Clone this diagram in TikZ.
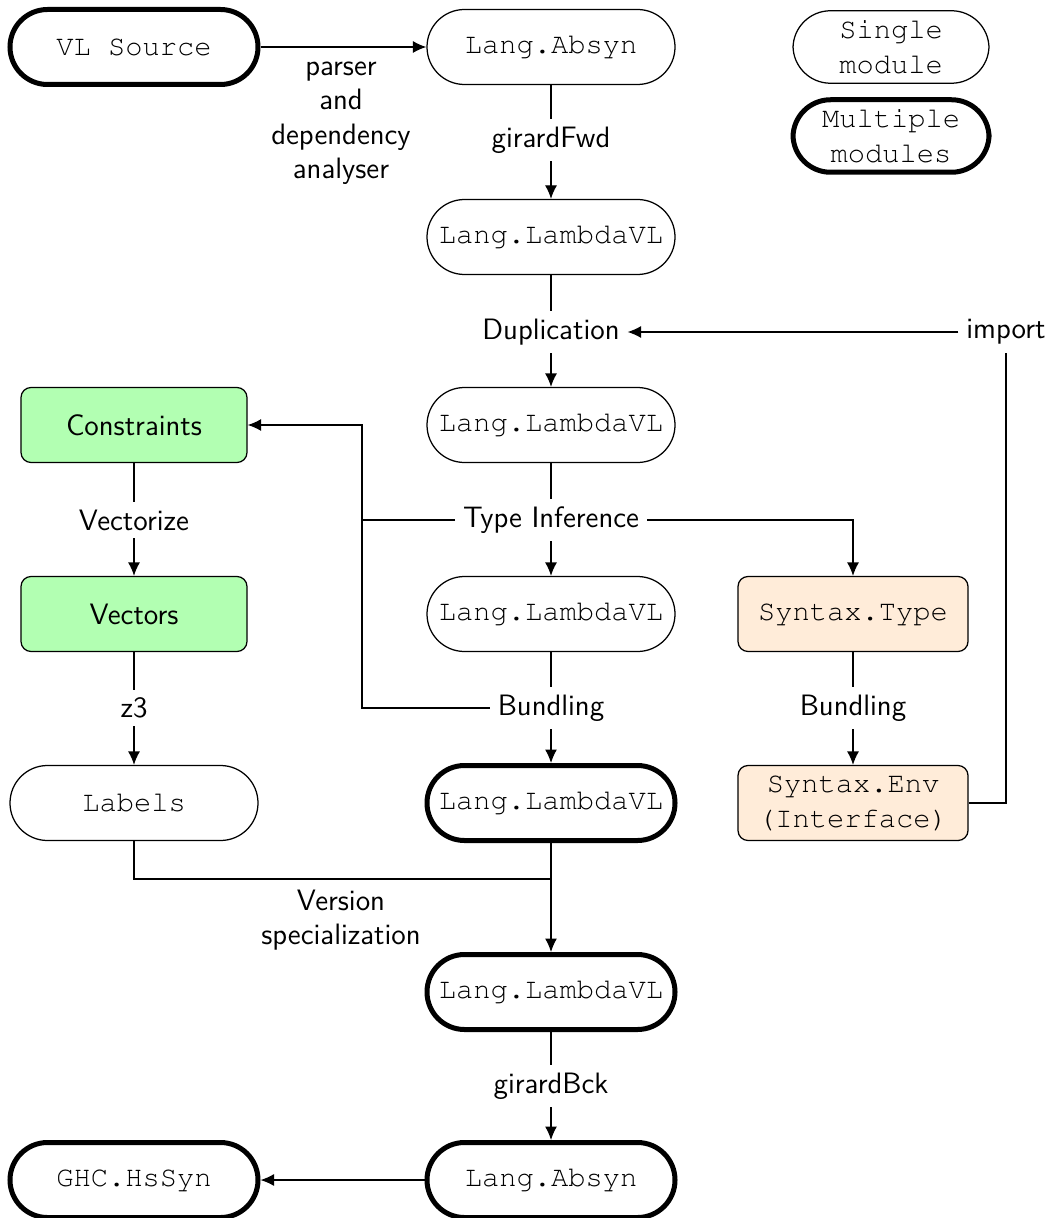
\documentclass[tikz,border=0pt]{standalone}
\usepackage{fontspec}
\usetikzlibrary{arrows.meta}
\newcommand\crfont{\fontencoding{T1}\fontfamily{pcr}\fontseries{m}\fontshape{n}\selectfont}
\tikzset{
  mod/.style={draw, line width=0.5pt, rounded corners=15pt, minimum width=99.2pt,
    minimum height=30pt, inner sep=0pt, align=center,
    font=\fontsize{11.5}{14}\crfont},
  multi/.style={mod, line width=2pt},
  lbl/.style={font=\fontsize{11.8}{13.8}\selectfont\sffamily, align=center, inner sep=3pt},
  grn/.style={draw, line width=0.5pt, rounded corners=4pt, fill=green!30,
    minimum width=90.4pt, minimum height=30pt, inner sep=0pt,
    font=\fontsize{11.8}{14}\selectfont\sffamily},
  org/.style={draw, line width=0.5pt, rounded corners=4pt, fill=orange!15,
    minimum width=92pt, minimum height=30pt, inner sep=0pt, align=center,
    font=\fontsize{11.5}{14}\crfont},
  arr/.style={-{Latex[length=5.4pt,width=4.8pt]}},
  ln/.style={line width=0.5pt},
}
\begin{document}
\begin{tikzpicture}[x=0.4pt, y=-0.4pt]
\useasboundingbox (0,0) rectangle (1048,1218);
% nodes
\node[multi] (vlsrc) at (134,47) {VL Source};
\node[mod] (absyn1) at (551,47) {Lang.Absyn};
\node[mod, minimum width=78.4pt, minimum height=29pt] (single) at (891,47) {Single\\module};
\node[multi, minimum width=78.4pt, minimum height=29pt] (multim) at (891,136) {Multiple\\modules};
\node[lbl] (gfwd) at (551,140) {girardFwd};
\node[mod] (lvl1) at (551,237) {Lang.LambdaVL};
\node[lbl] (dup) at (551,332) {Duplication};
\node[lbl] (import) at (1006,332) {import};
\node[mod] (lvl2) at (551,425) {Lang.LambdaVL};
\node[grn] (constr) at (134,425) {Constraints};
\node[lbl] (vectorize) at (134,520) {Vectorize};
\node[lbl] (typeinf) at (551,520) {Type Inference};
\node[grn] (vectors) at (134,614) {Vectors};
\node[mod] (lvl3) at (551,614) {Lang.LambdaVL};
\node[org] (stype) at (853,614) {Syntax.Type};
\node[lbl] (z3) at (134,708) {z3};
\node[lbl] (bund1) at (551,708) {Bundling};
\node[lbl] (bund2) at (853,708) {Bundling};
\node[mod] (labels) at (134,803) {Labels};
\node[multi] (lvl4) at (551,803) {Lang.LambdaVL};
\node[org] (senv) at (853,803) {Syntax.Env\\(Interface)};
\node[lbl] (vspec) at (341,920) {Version\\specialization};
\node[multi] (lvl5) at (551,992) {Lang.LambdaVL};
\node[lbl] (gbck) at (551,1086) {girardBck};
\node[multi] (absyn2) at (551,1180) {Lang.Absyn};
\node[multi] (ghc) at (134,1180) {GHC.HsSyn};
\node[lbl] (parser) at (341,123) {parser\\and\\dependency\\analyser};
\coordinate (j1) at (362,520);
\coordinate (j2) at (551,879);
% edges
\draw[ln, arr] (vlsrc) -- (absyn1);
\draw[ln] (absyn1) -- (gfwd);
\draw[ln, arr] (gfwd) -- (lvl1);
\draw[ln] (lvl1) -- (dup);
\draw[ln, arr] (dup) -- (lvl2);
\draw[ln, arr] (import) -- (dup);
\draw[ln] (senv.east) -| (import.south);
\draw[ln] (lvl2) -- (typeinf);
\draw[ln, arr] (typeinf) -- (lvl3);
\draw[ln, arr] (typeinf.east) -| (stype.north);
\draw[ln, arr] (typeinf.west) -- (j1) |- (constr.east);
\draw[ln] (bund1.west) -| (j1);
\draw[ln] (lvl3) -- (bund1);
\draw[ln, arr] (bund1) -- (lvl4);
\draw[ln] (stype) -- (bund2);
\draw[ln, arr] (bund2) -- (senv);
\draw[ln] (constr) -- (vectorize);
\draw[ln, arr] (vectorize) -- (vectors);
\draw[ln] (vectors) -- (z3);
\draw[ln, arr] (z3) -- (labels);
\draw[ln] (labels.south) |- (j2);
\draw[ln, arr] (lvl4.south) -- (lvl5.north);
\draw[ln] (lvl5) -- (gbck);
\draw[ln, arr] (gbck) -- (absyn2);
\draw[ln, arr] (absyn2) -- (ghc);
\end{tikzpicture}
\end{document}
